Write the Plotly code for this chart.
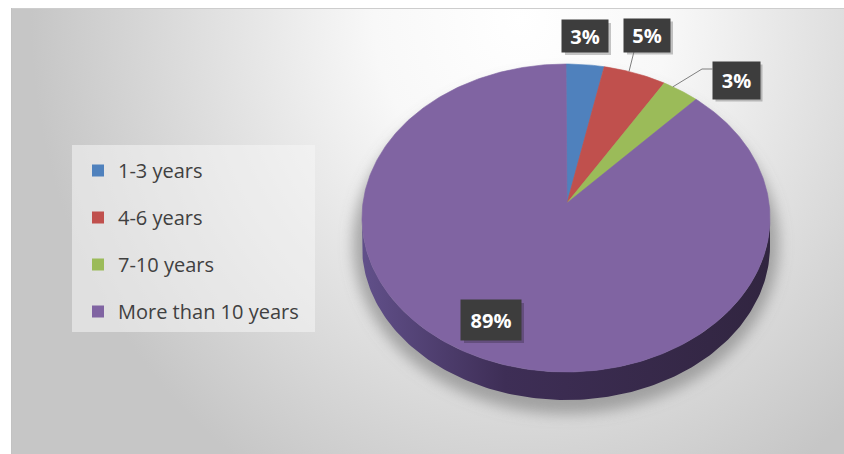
import base64
import numpy as np
import plotly.graph_objects as go

# ---- data ----
categories = ["1-3 years", "4-6 years", "7-10 years", "More than 10 years"]
shares = [3, 5, 3, 89]
colors = ["#4f81bd", "#c0504d", "#9bbb59", "#8064a2"]

# ---- geometry of the tilted pie (pixel-like axis units) ----
W, H = 844, 454
CX, CY, RX, RY = 566, 218, 204, 154
APEX_X, APEX_Y = 567, 203
DEPTH = 28


def rim(t):
    return CX + RX * np.sin(t), CY - RY * np.cos(t)


total = float(sum(shares))
bounds = np.concatenate([[0.0], np.cumsum(shares) / total]) * 2 * np.pi

fig = go.Figure()

# side wall of the disc (front half only is visible)
t = np.linspace(np.pi / 2, 3 * np.pi / 2, 160)
sx, sy = rim(t)
fig.add_trace(go.Scatter(
    x=np.concatenate([sx, sx[::-1]]),
    y=np.concatenate([sy, sy[::-1] + DEPTH]),
    mode="lines", fill="toself", line=dict(width=0),
    fillgradient=dict(type="horizontal",
                      colorscale=[[0, "#61508a"], [0.35, "#3e2e56"], [1, "#312540"]]),
    hoverinfo="skip", showlegend=False,
))

# top face slices
for name, val, col, t0, t1 in zip(categories, shares, colors, bounds[:-1], bounds[1:]):
    n = max(8, int((t1 - t0) * 80))
    px, py = rim(np.linspace(t0, t1, n))
    fig.add_trace(go.Scatter(
        x=np.concatenate([[APEX_X], px, [APEX_X]]),
        y=np.concatenate([[APEX_Y], py, [APEX_Y]]),
        mode="lines", fill="toself", fillcolor=col,
        line=dict(width=0.6, color=col),
        name=name, legendgroup=name, showlegend=False,
        hoveron="fills", hovertemplate=f"{name}: {val}%<extra></extra>",
    ))

# legend entries (square swatches)
for name, col in zip(categories, colors):
    fig.add_trace(go.Scatter(
        x=[None], y=[None], mode="markers", name=name, legendgroup=name,
        marker=dict(symbol="square", size=12, color=col, line=dict(width=0)),
    ))

# ---- data labels ----
label_pos = [(585, 36), (647, 35), (736, 80), (491, 320)]
label_box = [(46, 32), (46, 33), (47, 37), (60, 40)]
annotations = []
shapes = []
for val, (lx, ly), (bw, bh) in zip(shares, label_pos, label_box):
    shapes.append(dict(type="rect", xref="x", yref="y", layer="above",
                       x0=lx - bw / 2 + 3, x1=lx + bw / 2 + 3,
                       y0=ly - bh / 2 + 3, y1=ly + bh / 2 + 3,
                       fillcolor="rgba(0,0,0,0.22)", line=dict(width=0)))
    annotations.append(dict(
        x=lx, y=ly, xref="x", yref="y", text=f"<b>{val}%</b>", showarrow=False,
        width=bw, height=bh, borderpad=0, bgcolor="#3d3d3d",
        font=dict(family="Open Sans", size=20, color="white"),
        xanchor="center", yanchor="middle",
    ))

# leader lines for the two small slices on the right
def rim_at(frac):
    return rim(frac * 2 * np.pi)

rx1, ry1 = rim_at((bounds[1] + 0.4 * (bounds[2] - bounds[1])) / (2 * np.pi))
shapes.append(dict(type="path", xref="x", yref="y", layer="above",
                   path=f"M {rx1:.1f},{ry1:.1f} L 634,{label_pos[1][1] + label_box[1][1] / 2:.1f}",
                   line=dict(color="#7f7f7f", width=1)))
rx2, ry2 = rim_at((bounds[2] + 0.26 * (bounds[3] - bounds[2])) / (2 * np.pi))
gx = label_pos[2][0] - label_box[2][0] / 2
shapes.append(dict(type="path", xref="x", yref="y", layer="above",
                   path=f"M {rx2:.1f},{ry2:.1f} L 702,69 L {gx:.1f},69",
                   line=dict(color="#7f7f7f", width=1)))

# legend panel and chart frame
shapes.append(dict(type="rect", xref="x", yref="y", layer="below",
                   x0=72, x1=315, y0=145, y1=332,
                   fillcolor="rgba(246,246,246,0.55)", line=dict(width=0)))
shapes.append(dict(type="line", xref="x", yref="y", layer="above",
                   x0=11, x1=W, y0=8.5, y1=8.5, line=dict(color="#cdcdcd", width=1)))
shapes.append(dict(type="line", xref="x", yref="y", layer="above",
                   x0=11.5, x1=11.5, y0=8, y1=H, line=dict(color="#c2c2c2", width=1)))

# chart-area background: soft radial light plus the disc's drop shadow
BW, BH = W - 11, H - 8
svg = f"""<svg xmlns='http://www.w3.org/2000/svg' width='{BW}' height='{BH}' viewBox='0 0 {BW} {BH}'>
<defs>
<radialGradient id='g' gradientUnits='userSpaceOnUse' cx='0' cy='0' r='1'
 gradientTransform='translate(510,10) scale(490,540)'>
<stop offset='0' stop-color='#ffffff'/><stop offset='0.3' stop-color='#f8f8f8'/>
<stop offset='1' stop-color='#c6c6c6'/></radialGradient>
<filter id='b' x='-30%' y='-30%' width='160%' height='160%'><feGaussianBlur stdDeviation='7'/></filter>
</defs>
<rect width='{BW}' height='{BH}' fill='url(#g)'/>
<ellipse cx='{CX - 11}' cy='{CY - 8 + 26}' rx='{RX + 9}' ry='{RY + 16}' fill='#7a7a7a' fill-opacity='0.6' filter='url(#b)'/>
</svg>"""
bg_uri = "data:image/svg+xml;base64," + base64.b64encode(svg.encode()).decode()

fig.update_layout(
    width=W, height=H,
    margin=dict(l=0, r=0, t=0, b=0),
    paper_bgcolor="white", plot_bgcolor="rgba(0,0,0,0)",
    xaxis=dict(range=[0, W], visible=False, fixedrange=True),
    yaxis=dict(range=[H, 0], visible=False, fixedrange=True),
    images=[dict(source=bg_uri, xref="paper", yref="paper",
                 x=11 / W, y=1 - 8 / H, sizex=BW / W, sizey=BH / H,
                 xanchor="left", yanchor="top", sizing="stretch", layer="below")],
    shapes=shapes,
    annotations=annotations,
    legend=dict(x=78 / W, y=1 - 151 / H, xanchor="left", yanchor="top",
                bgcolor="rgba(0,0,0,0)", traceorder="grouped", tracegroupgap=18,
                font=dict(family="Open Sans", size=20, color="#404040")),
    showlegend=True,
)

fig.write_html("out.html")
